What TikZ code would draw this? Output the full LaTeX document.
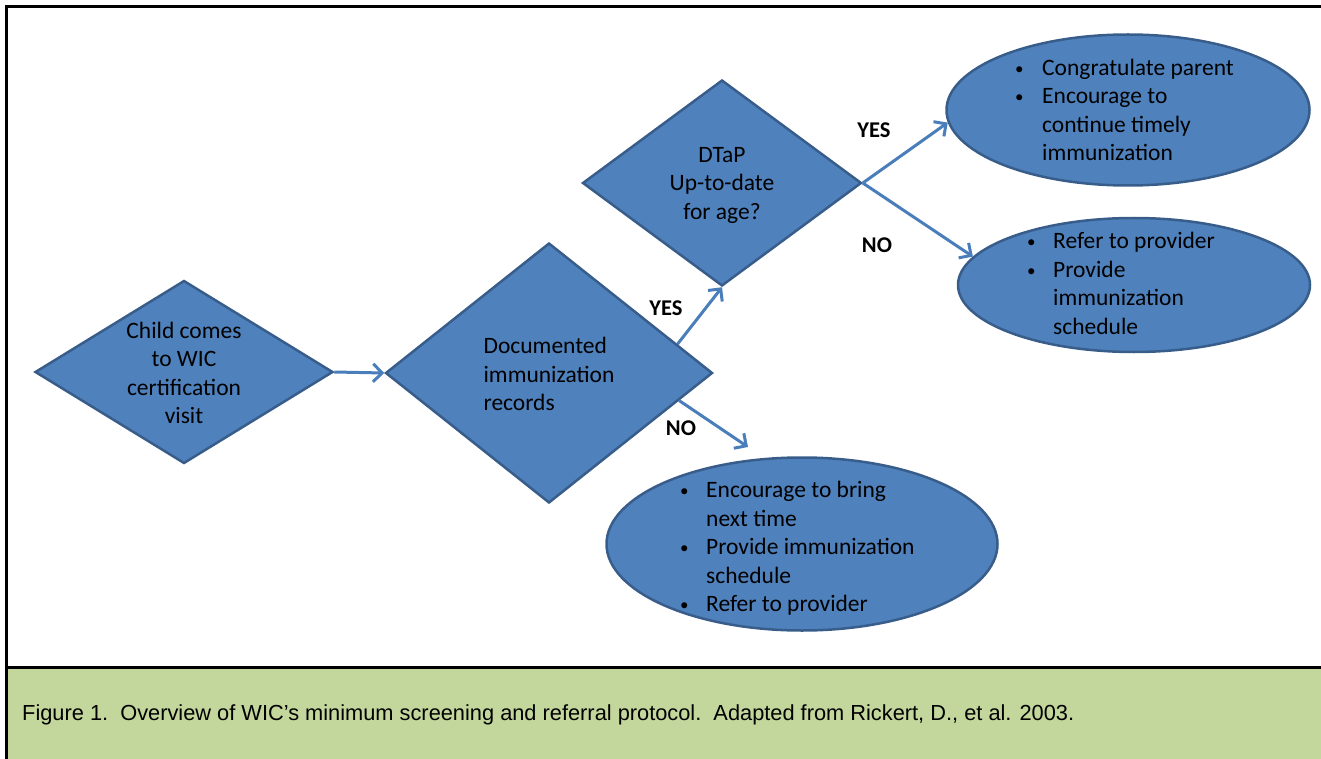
\documentclass[tikz,border=0pt]{standalone}
\usepackage{fontspec}
\setmainfont{Carlito}
\newfontfamily\capfont{Liberation Sans}
\usetikzlibrary{shapes.geometric,arrows.meta,calc}
\definecolor{boxfill}{HTML}{4F81BD}
\definecolor{boxline}{HTML}{385D8A}
\definecolor{arrowc}{HTML}{4A7EBB}
\definecolor{capgreen}{HTML}{C3D69B}
\newcommand{\bul}{\raisebox{1.2pt}{\fontsize{17}{17}\selectfont\textbullet}}
\begin{document}
\begin{tikzpicture}[x=1pt,y=-1pt,
  dia/.style={diamond, draw=boxline, fill=boxfill, line width=2.5pt, inner sep=0pt},
  ell/.style={ellipse, draw=boxline, fill=boxfill, line width=2.5pt, inner sep=0pt},
  body/.style={font=\fontsize{23.5}{28.5}\selectfont, inner sep=0pt, text=black},
  lab/.style={font=\fontsize{22.5}{26}\selectfont\bfseries, inner sep=0pt, text=black},
  flow/.style={draw=arrowc, line width=3pt, -{Straight Barb[length=9pt,width=18pt]}}]
\useasboundingbox (0,0) rectangle (1321,759);
% frame and caption band
\fill[capgreen] (7.5,668.5) rectangle (1321,759);
\draw[line width=3pt] (6,759) -- (6,7) -- (1321,7);
\draw[line width=3pt] (6,667) -- (1321,667);
\node[anchor=base west, inner sep=0pt, font=\capfont\fontsize{21.8}{26}\selectfont] (cap) at (22,720)
  {Figure 1.\ \ Overview of WIC’s minimum screening and referral protocol.\ \ Adapted from Rickert, D., et al. 2003.};
% shapes
\node[dia, minimum width=298pt, minimum height=183pt] (d1) at (184,372) {};
\node[dia, minimum width=327pt, minimum height=260pt] (d2) at (549,373) {};
\node[dia, minimum width=279pt, minimum height=206pt] (d3) at (722,183) {};
\node[ell, minimum width=363pt, minimum height=151pt] (e1) at (1128,110) {};
\node[ell, minimum width=352pt, minimum height=134pt] (e2) at (1134,285) {};
\node[ell, minimum width=391pt, minimum height=173pt] (e3) at (802,544) {};
% texts
\node[body, align=center] (t1) at (184,373) {Child comes\\to WIC\\certification\\visit};
\node[body, align=left] (t2) at (549,374) {Documented\\immunization\\records};
\node[body, align=center] (t3) at (722,185) {DTaP\\Up-to-date\\for age?};
\node[body, anchor=west] (t4) at (1015,112.5) {\begin{tabular}{@{}p{27pt}@{}l@{}}
\bul & Congratulate parent\\
\bul & Encourage to\\
 & continue timely\\
 & immunization\end{tabular}};
\node[body, anchor=west] (t5) at (1027,286) {\begin{tabular}{@{}p{26pt}@{}l@{}}
\bul & Refer to provider\\
\bul & Provide\\
 & immunization\\
 & schedule\end{tabular}};
\node[body, anchor=west] (t6) at (680,549) {\begin{tabular}{@{}p{26pt}@{}l@{}}
\bul & Encourage to bring\\
 & next time\\
\bul & Provide immunization\\
 & schedule\\
\bul & Refer to provider\end{tabular}};
% connectors
\coordinate (n1) at (748,447);
\draw[flow] (d1.east) -- (d2.west);
\draw[flow] ($(d2.north)!0.78!(d2.east)$) -- (d3.south);
\draw[flow] ($(d2.east)!0.21!(d2.south)$) -- (n1);
\draw[flow] (d3.east) -- (e1.184);
\draw[flow] (d3.east) -- (e2.170);
% labels
\node[lab] (y1) at (666,308) {YES};
\node[lab] (no1) at (681,428) {NO};
\node[lab] (y2) at (874,130) {YES};
\node[lab] (no2) at (877,245) {NO};
\end{tikzpicture}
\end{document}
